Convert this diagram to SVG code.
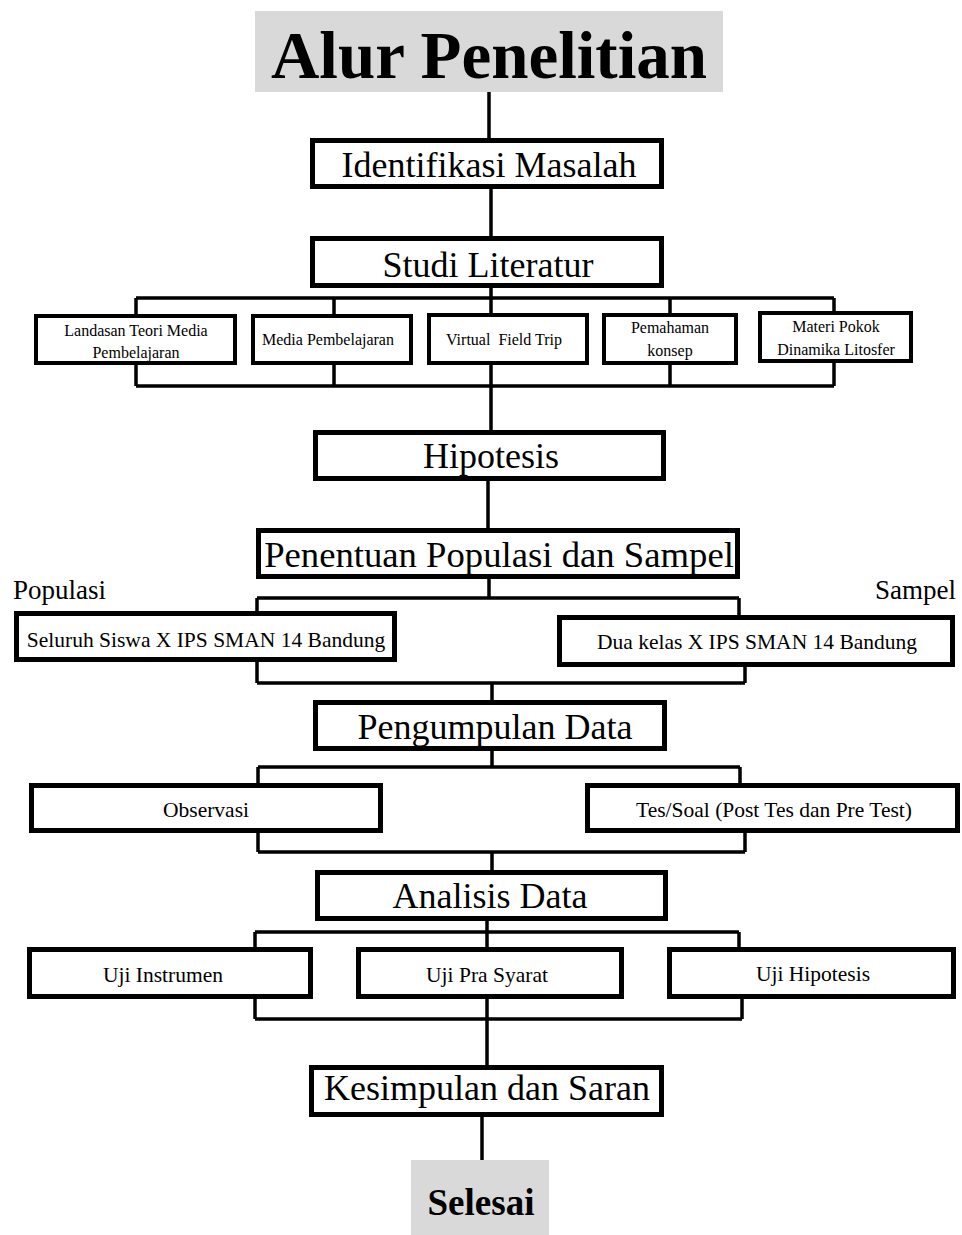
<svg xmlns="http://www.w3.org/2000/svg" width="962" height="1235" viewBox="0 0 962 1235">
<style>
.bx{fill:#fff;stroke:#000;stroke-width:5}
.sb{fill:#fff;stroke:#000;stroke-width:4}
.gr{fill:#d9d9d9}
.t{font-family:"Liberation Serif","Times New Roman",serif;fill:#000;text-anchor:middle}
.big{font-size:36px}
.mid{font-size:21.5px}
.sm{font-size:16px}
.lbl{font-size:27px}
.ttl{font-size:67px;font-weight:bold}
.end{font-size:37px;font-weight:bold}
.c{fill:none;stroke:#000;stroke-width:3.5}
</style>
<rect width="962" height="1235" fill="#fff"/>
<g id="connectors" class="c">
<path d="M489,92V139"/>
<path d="M491,189V237"/>
<path d="M491,288V313M136,298H834M136,298V314M334,298V314M670,298V313M834,298V311"/>
<path d="M136,365V386M334,365V386M670,365V386M834,363V386M136,386H834M491,365V430"/>
<path d="M488,481V528"/>
<path d="M489,579V598M257,598H739M257,598V611M739,598V615"/>
<path d="M257,662V683M745,667V683M257,683H745M492,683V700"/>
<path d="M492,751V767M258,767H740M258,767V783M740,767V783"/>
<path d="M258,833V852M745,833V852M258,852H745M492,852V870"/>
<path d="M487,921V947M255,932H739M255,932V947M739,932V947"/>
<path d="M255,999V1019M742,999V1019M255,1019H742M487,999V1065"/>
<path d="M482,1117V1160"/>
</g>
<g id="title"><rect class="gr" x="255" y="11" width="468" height="81"/><text class="t ttl" x="489" y="78">Alur Penelitian</text></g>
<g id="identifikasi"><rect class="bx" x="312.5" y="140.5" width="349" height="46"/><text class="t big" x="489" y="177">Identifikasi Masalah</text></g>
<g id="studi"><rect class="bx" x="312.5" y="238.5" width="349" height="47"/><text class="t big" x="488" y="277">Studi Literatur</text></g>
<g id="landasan"><rect class="sb" x="36" y="316" width="199" height="47"/><text class="t sm" x="136" y="336">Landasan Teori Media</text><text class="t sm" x="136" y="358">Pembelajaran</text></g>
<g id="media"><rect class="sb" x="253" y="316" width="158" height="47"/><text class="t sm" x="328" y="345">Media Pembelajaran</text></g>
<g id="virtual"><rect class="sb" x="429" y="315" width="158" height="48"/><text class="t sm" x="504" y="345" xml:space="preserve">Virtual  Field Trip</text></g>
<g id="pemahaman"><rect class="sb" x="604" y="315" width="132" height="48"/><text class="t sm" x="670" y="333">Pemahaman</text><text class="t sm" x="670" y="356">konsep</text></g>
<g id="materi"><rect class="sb" x="760" y="313" width="151" height="48"/><text class="t sm" x="836" y="332">Materi Pokok</text><text class="t sm" x="836" y="355">Dinamika Litosfer</text></g>
<g id="hipotesis"><rect class="bx" x="315.5" y="432.5" width="348" height="46"/><text class="t big" x="491" y="468">Hipotesis</text></g>
<g id="penentuan"><rect class="bx" x="258.5" y="530.5" width="479" height="46"/><text class="t big" style="font-size:36.7px" x="499" y="567">Penentuan Populasi dan Sampel</text></g>
<g id="populasi-label"><text class="t lbl" style="text-anchor:start" x="13" y="599">Populasi</text></g>
<g id="sampel-label"><text class="t lbl" style="text-anchor:end" x="956" y="599">Sampel</text></g>
<g id="seluruh"><rect class="bx" x="16.5" y="613.5" width="378" height="46"/><text class="t mid" x="206" y="647">Seluruh Siswa X IPS SMAN 14 Bandung</text></g>
<g id="duakelas"><rect class="bx" x="559.5" y="617.5" width="393" height="47"/><text class="t mid" x="757" y="649">Dua kelas X IPS SMAN 14 Bandung</text></g>
<g id="pengumpulan"><rect class="bx" x="315.5" y="702.5" width="349" height="46"/><text class="t big" x="495" y="739">Pengumpulan Data</text></g>
<g id="observasi"><rect class="bx" x="31.5" y="785.5" width="349" height="45"/><text class="t mid" x="206" y="817">Observasi</text></g>
<g id="tessoal"><rect class="bx" x="587.5" y="785.5" width="370" height="45"/><text class="t mid" x="774" y="817">Tes/Soal (Post Tes dan Pre Test)</text></g>
<g id="analisis"><rect class="bx" x="317.5" y="872.5" width="348" height="46"/><text class="t big" x="490" y="908">Analisis Data</text></g>
<g id="ujiinstrumen"><rect class="bx" x="29.5" y="949.5" width="281" height="47"/><text class="t mid" x="163" y="982">Uji Instrumen</text></g>
<g id="ujipra"><rect class="bx" x="358.5" y="949.5" width="263" height="47"/><text class="t mid" x="487" y="982">Uji Pra Syarat</text></g>
<g id="ujihipotesis"><rect class="bx" x="669.5" y="949.5" width="284" height="47"/><text class="t mid" x="813" y="981">Uji Hipotesis</text></g>
<g id="kesimpulan"><rect class="bx" x="311.5" y="1067.5" width="350" height="47"/><text class="t big" x="487" y="1100">Kesimpulan dan Saran</text></g>
<g id="selesai"><rect class="gr" x="411" y="1160" width="138" height="75"/><text class="t end" x="481" y="1215">Selesai</text></g>
</svg>
